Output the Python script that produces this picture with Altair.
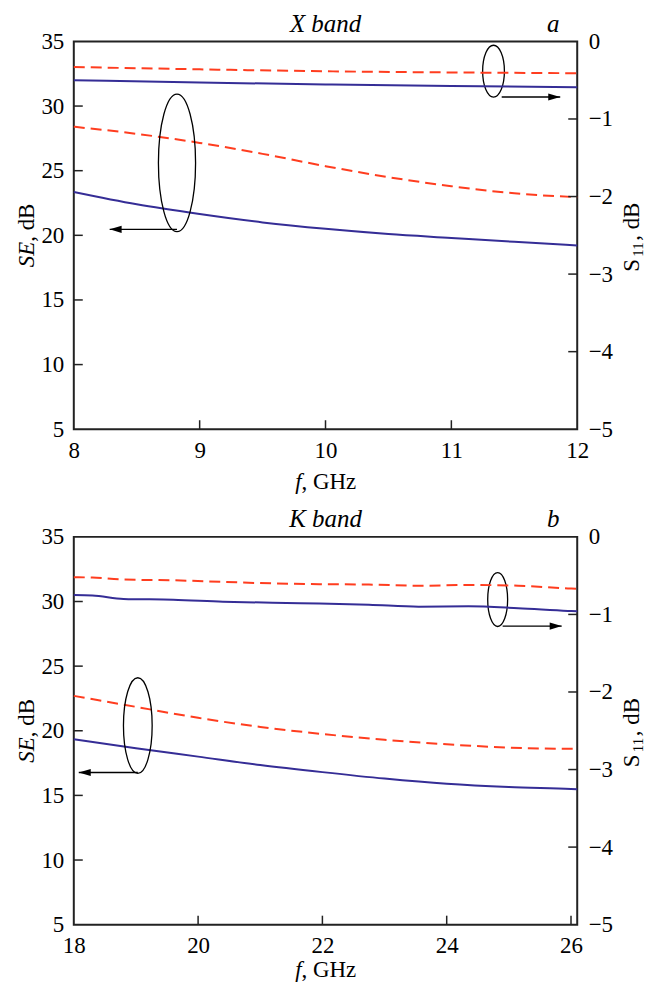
import altair as alt
import pandas as pd

BLUE = "#352d96"
RED = "#ff3d1f"
FONT = "Liberation Serif"

# ---------------- X band (panel a) ----------------
fx = [8, 8.5, 9, 9.5, 10, 10.5, 11, 11.5, 12]
se_x_blue = [23.35, 22.4, 21.65, 21.0, 20.5, 20.1, 19.8, 19.5, 19.22]
se_x_red = [28.4, 27.85, 27.15, 26.3, 25.35, 24.5, 23.8, 23.25, 22.95]
fx_s = [8, 9, 10, 11, 12]
s11_x_red = [-0.33, -0.36, -0.385, -0.40, -0.41]
s11_x_blue = [-0.50, -0.53, -0.555, -0.575, -0.59]
x_labels_a = [8, 9, 10, 11, 12]
x_ticks_a = [9, 10, 11]

# ---------------- K band (panel b) ----------------
fk = [18, 19, 20, 21, 22, 23, 24, 25, 26, 26.1]
se_k_blue = [19.35, 18.65, 18.0, 17.35, 16.8, 16.3, 15.9, 15.65, 15.5, 15.48]
se_k_red = [22.7, 21.85, 21.0, 20.3, 19.75, 19.3, 18.95, 18.7, 18.6, 18.6]
fk_s = [18.0, 18.3, 18.8, 19.6, 20.4, 21.2, 21.95, 22.75, 23.55, 24.35, 25.15, 25.95, 26.1]
s11_k_red = [-0.52, -0.525, -0.55, -0.56, -0.58, -0.60, -0.61, -0.615, -0.63, -0.62, -0.63, -0.665, -0.67]
s11_k_blue = [-0.75, -0.755, -0.80, -0.81, -0.835, -0.85, -0.86, -0.875, -0.90, -0.895, -0.92, -0.955, -0.96]
x_labels_b = [18, 20, 22, 24, 26]
x_ticks_b = [20, 22, 24, 26]

se_labels = [5, 10, 15, 20, 25, 30, 35]
se_ticks = [10, 15, 20, 25, 30]
s11_labels = [-5, -4, -3, -2, -1, 0]
s11_ticks = [-4, -3, -2, -1]

# annotations (ellipse centre f, SE; pixel height; width/height ratio)
ell_a = {"f": [8.82, 11.335], "se": [25.6, 32.7], "h": [138, 52], "r": [0.27, 0.42]}
arr_a = {"f": [8.82, 11.40], "f2": [8.285, 11.865], "se": [20.46, 30.7], "dir": ["L", "R"]}
ell_b = {"f": [19.03, 24.82], "se": [20.4, 30.15], "h": [96, 54], "r": [0.30, 0.37]}
arr_b = {"f": [19.03, 24.90], "f2": [18.08, 25.85], "se": [16.77, 28.1], "dir": ["L", "R"]}

W, H = 505, 389
LBL = 23


def ellipse_path(r):
    return f"M0,-1A{r},1,0,1,1,0,1A{r},1,0,1,1,0,-1Z"


ARROW = {"L": "M0,0L2,-0.6L2,0.6Z", "R": "M0,0L-2,-0.6L-2,0.6Z"}


def txt(s, x, y, size=23, style="normal", align="center", baseline="alphabetic", angle=0):
    return alt.Chart(pd.DataFrame({"t": [s]})).mark_text(
        font=FONT, fontSize=size, fontStyle=style, align=align, baseline=baseline,
        angle=angle, color="black"
    ).encode(text="t:N", x=alt.value(x), y=alt.value(y))


def axis(values, orient, pad):
    return alt.Axis(values=values, title=None, labelFlush=False, labelOverlap=False,
                    labelPadding=pad, orient=orient, format="d", labelFont=FONT,
                    labelFontSize=LBL, labelColor="black", ticks=False, domain=False,
                    grid=False)


def panel(f_se, blue_se, red_se, f_s, red_s, blue_s, xdom, xlabels, xticks,
          ell, arr, band, letter, xt_y):
    xs = alt.Scale(domain=xdom, nice=False, zero=False)
    ys = alt.Scale(domain=[5, 35], nice=False, zero=False)
    ss = alt.Scale(domain=[-5, 0], nice=False, zero=False)
    xaxis = axis(xlabels, "bottom", 10)
    yaxis = axis(se_labels, "left", 10)
    saxis = axis(s11_labels, "right", 11)

    se_df = pd.DataFrame({"f": f_se, "blue": blue_se, "red": red_se})
    s_df = pd.DataFrame({"f": f_s, "blue": blue_s, "red": red_s})

    X = alt.X("f:Q", scale=xs, axis=xaxis)
    se_blue = alt.Chart(se_df).mark_line(color=BLUE, strokeWidth=2, interpolate="monotone").encode(
        x=X, y=alt.Y("blue:Q", scale=ys, axis=yaxis))
    se_red = alt.Chart(se_df).mark_line(color=RED, strokeWidth=2, strokeDash=[11, 6],
                                        interpolate="monotone").encode(
        x=X, y=alt.Y("red:Q", scale=ys, axis=yaxis))

    xt = alt.Chart(pd.DataFrame({"v": xticks})).mark_rule(color="#222", strokeWidth=1.5).encode(
        x=alt.X("v:Q", scale=xs, axis=xaxis), y=alt.value(H), y2=alt.value(H - 9))
    yt = alt.Chart(pd.DataFrame({"v": se_ticks})).mark_rule(color="#222", strokeWidth=1.5).encode(
        y=alt.Y("v:Q", scale=ys, axis=yaxis), x=alt.value(0), x2=alt.value(9))

    edf = pd.DataFrame({"f": ell["f"], "se": ell["se"],
                        "shape": [ellipse_path(r) for r in ell["r"]],
                        "size": [h * h for h in ell["h"]]})
    ellipses = alt.Chart(edf).mark_point(filled=False, color="black", strokeWidth=1.3,
                                         opacity=1).encode(
        x=alt.X("f:Q", scale=xs, axis=xaxis), y=alt.Y("se:Q", scale=ys, axis=yaxis),
        shape=alt.Shape("shape:N", scale=None), size=alt.Size("size:Q", scale=None))
    adf = pd.DataFrame({"f": arr["f"], "f2": arr["f2"], "se": arr["se"],
                        "shape": [ARROW[d] for d in arr["dir"]]})
    arrows = alt.Chart(adf).mark_rule(color="black", strokeWidth=1.3).encode(
        x=alt.X("f:Q", scale=xs, axis=xaxis), x2="f2:Q", y=alt.Y("se:Q", scale=ys, axis=yaxis))
    heads = alt.Chart(adf).mark_point(filled=True, color="black", opacity=1, size=144,
                                      strokeWidth=0).encode(
        x=alt.X("f2:Q", scale=xs, axis=xaxis), y=alt.Y("se:Q", scale=ys, axis=yaxis),
        shape=alt.Shape("shape:N", scale=None))

    texts = [
        txt(band, W / 2, -29.75, size=25, style="italic", baseline="top"),
        txt(letter, 481, -29.75, size=25, style="italic", baseline="top"),
        # left axis title  SE, dB
        txt("SE", -47, 201, style="italic", align="right", baseline="middle", angle=270),
        txt(", dB", -47, 201, align="left", baseline="middle", angle=270),
        # right axis title  S11, dB
        txt("S", 560, 231, align="left", baseline="middle", angle=270),
        txt("11", 566, 216, size=15, align="left", baseline="middle", angle=270),
        txt(", dB", 560, 200, align="left", baseline="middle", angle=270),
        # x title  f, GHz
        txt("f", W / 2 - 24, xt_y, style="italic", align="right", baseline="bottom"),
        txt(", GHz", W / 2 - 24, xt_y, align="left", baseline="bottom"),
    ]

    left = alt.layer(se_blue, se_red, xt, yt, ellipses, arrows, heads, *texts)

    s_blue = alt.Chart(s_df).mark_line(color=BLUE, strokeWidth=2, interpolate="monotone").encode(
        x=X, y=alt.Y("blue:Q", scale=ss, axis=saxis))
    s_red = alt.Chart(s_df).mark_line(color=RED, strokeWidth=2, strokeDash=[11, 6],
                                      interpolate="monotone").encode(
        x=X, y=alt.Y("red:Q", scale=ss, axis=saxis))
    st = alt.Chart(pd.DataFrame({"v": s11_ticks})).mark_rule(color="#222", strokeWidth=1.5).encode(
        y=alt.Y("v:Q", scale=ss, axis=saxis), x=alt.value(W), x2=alt.value(W - 9))
    right = alt.layer(s_blue, s_red, st)

    return alt.layer(left, right).resolve_scale(y="independent").properties(width=W, height=H)


pa = panel(fx, se_x_blue, se_x_red, fx_s, s11_x_red, s11_x_blue, [8, 12],
           x_labels_a, x_ticks_a, ell_a, arr_a, "X band", "a", 454)
pb = panel(fk, se_k_blue, se_k_red, fk_s, s11_k_red, s11_k_blue, [18, 26.1],
           x_labels_b, x_ticks_b, ell_b, arr_b, "K band", "b", 447)

chart = alt.vconcat(pa, pb, spacing=11).resolve_scale(x="independent").properties(
    padding={"left": 7, "top": 1, "right": 0, "bottom": 0}
).configure_view(stroke="#222", strokeWidth=2).configure_axis(
    labelFont=FONT, labelFontSize=LBL, labelColor="black", grid=False, domain=False, ticks=False
)

chart.save("out.html", embed_options={"renderer": "svg", "actions": False})
